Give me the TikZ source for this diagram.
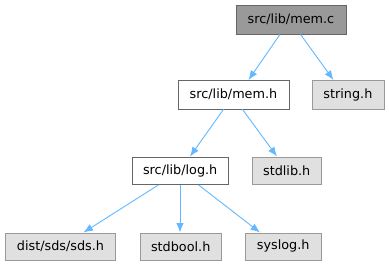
\documentclass[tikz,border=0pt]{standalone}
\usepackage{fontspec}
\setmainfont{DejaVu Sans}
\usetikzlibrary{arrows.meta}
\definecolor{edgeblue}{HTML}{63B8FF}
\definecolor{darkfill}{HTML}{999999}
\definecolor{darkline}{HTML}{666666}
\definecolor{lightfill}{HTML}{E0E0E0}
\definecolor{lightline}{HTML}{999999}
\begin{document}
\begin{tikzpicture}[x=1pt,y=-1pt,
  box/.style={draw, line width=0.9pt, inner sep=0pt, font=\fontsize{12.8}{14}\selectfont, anchor=north west},
  mainbox/.style={box, fill=darkfill, draw=darkline},
  whitebox/.style={box, fill=white, draw=darkline},
  sysbox/.style={box, fill=lightfill, draw=lightline},
  dep/.style={draw=edgeblue, line width=0.9pt, -{Latex[length=9.5pt,width=7.5pt]}}]
\useasboundingbox (0,0) rectangle (389,265);
\node[mainbox, minimum width=110pt, minimum height=28.5pt] (memc) at (235.5,5) {src/lib/mem.c};
\node[whitebox, minimum width=111pt, minimum height=28.5pt] (memh) at (177.5,80) {src/lib/mem.h};
\node[sysbox, minimum width=72pt, minimum height=28.5pt] (string) at (311.5,80) {string.h};
\node[whitebox, minimum width=96.5pt, minimum height=27.5pt] (logh) at (131.5,156.5) {src/lib/log.h};
\node[sysbox, minimum width=69.5pt, minimum height=27.5pt] (stdlib) at (251.5,156.5) {stdlib.h};
\node[sysbox, minimum width=110pt, minimum height=27pt] (sds) at (5,232.5) {dist/sds/sds.h};
\node[sysbox, minimum width=81.5pt, minimum height=27pt] (stdbool) at (139.5,232.5) {stdbool.h};
\node[sysbox, minimum width=75.5pt, minimum height=27pt] (syslog) at (245,232.5) {syslog.h};
\draw[dep] ([xshift=44.5pt]memc.south west) -- ([xshift=71pt]memh.north west);
\draw[dep] ([xshift=65pt]memc.south west) -- ([xshift=22pt]string.north west);
\draw[dep] ([xshift=46pt]memh.south west) -- ([xshift=58.5pt]logh.north west);
\draw[dep] ([xshift=65pt]memh.south west) -- ([xshift=25.5pt]stdlib.north west);
\draw[dep] ([xshift=27pt]logh.south west) -- ([xshift=78.5pt]sds.north west);
\draw[dep] ([xshift=48.5pt]logh.south west) -- ([xshift=40.5pt]stdbool.north west);
\draw[dep] ([xshift=67pt]logh.south west) -- ([xshift=15pt]syslog.north west);
\end{tikzpicture}
\end{document}
